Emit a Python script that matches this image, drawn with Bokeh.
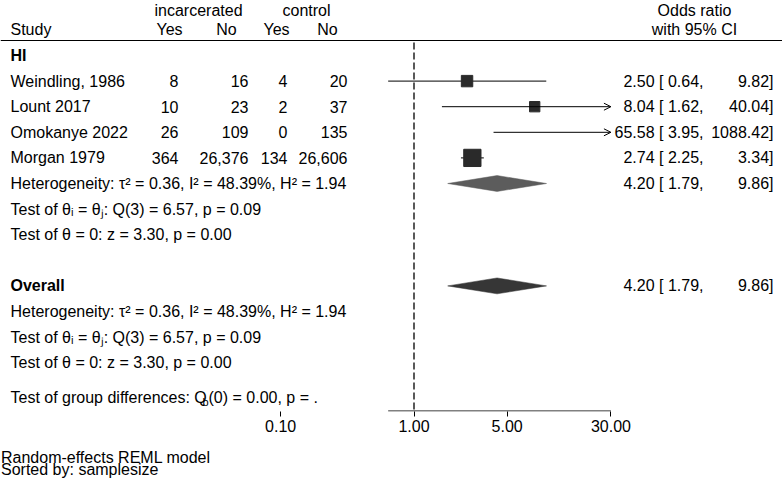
import math
from bokeh.plotting import figure
from bokeh.layouts import column
from bokeh.models import (Range1d, FixedTicker, PrintfTickFormatter, Span,
                          Arrow, OpenHead, ColumnDataSource)
from bokeh.core.properties import value
from bokeh.embed import file_html
from bokeh.resources import INLINE

# ---------------- data ----------------
studies = ["Weindling, 1986", "Lount 2017", "Omokanye 2022", "Morgan 1979"]
inc_yes = [8, 10, 26, 364]
inc_no = [16, 23, 109, 26376]
ctl_yes = [4, 2, 0, 134]
ctl_no = [20, 37, 135, 26606]
or_est = [2.50, 8.04, 65.58, 2.74]
or_lo = [0.64, 1.62, 3.95, 2.25]
or_hi = [9.82, 40.04, 1088.42, 3.34]
group_name = "HI"
group_est, group_lo, group_hi = 4.20, 1.79, 9.86
overall_est, overall_lo, overall_hi = 4.20, 1.79, 9.86
tau2, i2, h2 = 0.36, 48.39, 1.94
q_df, q_val, q_p = 3, 6.57, 0.09
z_val, z_p = 3.30, 0.00
qb_df, qb_val = 0, 0.00
x_ticks = [0.1, 1, 5, 30]
footer = ["Random-effects REML model", "Sorted by: samplesize"]

# ---------------- layout helpers ----------------
W = 782
H_MAIN, H_FOOT = 444, 38
X1PX, PPL = 413.5, 57.9          # pixel of OR = 1, pixels per ln unit
R0PX, PITCH = 55.0, 25.6         # pixel of row 0, row pitch
AXIS_PX = 411


def xd(px):
    return math.exp((px - X1PX) / PPL)


def yd(px):
    return (px - R0PX) / PITCH


FONT = value("Liberation Sans")
FS = "16px"

p = figure(width=W, height=H_MAIN, x_axis_type="log", output_backend="svg",
           toolbar_location=None, y_axis_location=None,
           x_range=Range1d(xd(0), xd(W)), y_range=Range1d(yd(AXIS_PX), yd(0)),
           min_border_left=0, min_border_right=0, min_border_top=0,
           min_border_bottom=H_MAIN - AXIS_PX)
p.outline_line_color = None
p.grid.visible = False
p.background_fill_color = "white"
p.border_fill_color = "white"

ax = p.xaxis[0]
ax.ticker = FixedTicker(ticks=x_ticks, minor_ticks=[])
ax.formatter = PrintfTickFormatter(format="%.2f")
ax.axis_line_color = None
ax.major_tick_out = 5
ax.major_tick_in = 0
ax.minor_tick_out = 0
ax.minor_tick_in = 0
ax.major_tick_line_color = "black"
ax.major_label_standoff = 3
ax.major_label_text_font = "Liberation Sans"
ax.major_label_text_font_size = FS
ax.major_label_text_color = "black"

# axis line only over the data range
p.segment(x0=[min(or_lo)], x1=[max(x_ticks)], y0=[yd(AXIS_PX - 0.5)], y1=[yd(AXIS_PX - 0.5)],
          line_color="black", line_width=1)

# header line
p.add_layout(Span(location=yd(40), dimension="width", line_color="black", line_width=1))

# null line
p.segment(x0=[1], x1=[1], y0=[yd(42)], y1=[yd(AXIS_PX)], line_color="#222222",
          line_width=1.5, line_dash="7 3")


def txt(fig, x, y, s, align="left", bold=False, size=FS):
    fig.text(x=x, y=y, text=s, text_font=FONT, text_font_size=size,
             text_align=align, text_baseline="middle", text_color="black",
             text_font_style="bold" if bold else "normal")


# headers
txt(p, [xd(198)], [yd(10)], ["incarcerated"], "center")
txt(p, [xd(306)], [yd(10)], ["control"], "center")
txt(p, [xd(10)], [yd(29)], ["Study"])
txt(p, [xd(169), xd(226), xd(276), xd(327)], [yd(29)] * 4, ["Yes", "No", "Yes", "No"], "center")
txt(p, [xd(694)], [yd(10)], ["Odds ratio"], "center")
txt(p, [xd(694)], [yd(29)], ["with 95% CI"], "center")

# group rows
rows = [i + 1 for i in range(len(studies))]
txt(p, [xd(10)], [0], [group_name], bold=True)
txt(p, [xd(10)] * len(rows), rows, studies)
for col_px, vals in zip([178, 248, 287, 347], [inc_yes, inc_no, ctl_yes, ctl_no]):
    txt(p, [xd(col_px)] * len(rows), rows, [f"{v:,}" for v in vals], "right")

txt(p, [xd(703)] * len(rows), rows, [f"{e:.2f} [{l:5.2f}," for e, l in zip(or_est, or_lo)], "right")
txt(p, [xd(773)] * len(rows), rows, [f"{h:.2f}]" for h in or_hi], "right")

# weights (random effects) for marker sizes
weights = []
for a, b, c, d in zip(inc_yes, inc_no, ctl_yes, ctl_no):
    cells = [a, b, c, d]
    if 0 in cells:
        cells = [v + 0.5 for v in cells]
    var = sum(1.0 / v for v in cells)
    weights.append(1.0 / (var + tau2))

xmax = max(x_ticks)
# CIs
seg_src = ColumnDataSource(dict(
    x0=[l for l, h in zip(or_lo, or_hi) if h <= xmax],
    x1=[h for l, h in zip(or_lo, or_hi) if h <= xmax],
    y=[r for r, h in zip(rows, or_hi) if h <= xmax]))
p.segment(x0="x0", x1="x1", y0="y", y1="y", source=seg_src, line_color="black", line_width=1)
arr_src = ColumnDataSource(dict(
    x0=[l for l, h in zip(or_lo, or_hi) if h > xmax],
    x1=[xmax for h in or_hi if h > xmax],
    y=[r for r, h in zip(rows, or_hi) if h > xmax]))
p.add_layout(Arrow(x_start="x0", x_end="x1", y_start="y", y_end="y", source=arr_src,
                   line_color="black", line_width=1,
                   end=OpenHead(size=7, line_color="black", line_width=1)))
# squares
sq_src = ColumnDataSource(dict(
    x=[e for e in or_est if e <= xmax],
    y=[r for r, e in zip(rows, or_est) if e <= xmax],
    s=[10.5 * math.sqrt(w) for w, e in zip(weights, or_est) if e <= xmax]))
p.scatter(x="x", y="y", size="s", marker="square", source=sq_src,
          fill_color="#2a2a2a", line_color="#2a2a2a")

# group summary
het = f"Heterogeneity: \u03c4\u00b2 = {tau2:.2f}, I\u00b2 = {i2:.2f}%, H\u00b2 = {h2:.2f}"
t1 = f"Test of \u03b8\u1d62 = \u03b8\u2c7c: Q({q_df}) = {q_val:.2f}, p = {q_p:.2f}"
t2 = f"Test of \u03b8 = 0: z = {z_val:.2f}, p = {z_p:.2f}"
g_row = len(studies) + 1
txt(p, [xd(10)] * 3, [g_row, g_row + 1, g_row + 2], [het, t1, t2])
txt(p, [xd(703)], [g_row], [f"{group_est:.2f} [{group_lo:5.2f},"], "right")
txt(p, [xd(773)], [g_row], [f"{group_hi:.2f}]"], "right")
DH = 0.31
p.patch(x=[group_lo, group_est, group_hi, group_est], y=[g_row, g_row - DH, g_row, g_row + DH],
        fill_color="#5c5c5c", line_color="#5c5c5c", line_width=0.5)

# overall
o_row = g_row + 4
txt(p, [xd(10)], [o_row], ["Overall"], bold=True)
txt(p, [xd(10)] * 3, [o_row + 1, o_row + 2, o_row + 3], [het, t1, t2])
txt(p, [xd(703)], [o_row], [f"{overall_est:.2f} [{overall_lo:5.2f},"], "right")
txt(p, [xd(773)], [o_row], [f"{overall_hi:.2f}]"], "right")
p.patch(x=[overall_lo, overall_est, overall_hi, overall_est], y=[o_row, o_row - DH, o_row, o_row + DH],
        fill_color="#363636", line_color="#363636", line_width=0.5)

# group differences
gd_y = yd(397)
txt(p, [xd(10)], [gd_y], ["Test of group differences: Q"])
txt(p, [xd(10 + 192)], [yd(401)], ["b"], size="11px")
txt(p, [xd(10 + 198)], [gd_y], [f"({qb_df}) = {qb_val:.2f}, p = ."])

# footer (separate strip below the axis)
f = figure(width=W, height=H_FOOT, output_backend="svg", toolbar_location=None,
           x_axis_location=None, y_axis_location=None,
           x_range=Range1d(0, W), y_range=Range1d(H_FOOT, 0),
           min_border=0)
f.outline_line_color = None
f.grid.visible = False
txt(f, [0.5] * len(footer), [457 - H_MAIN + 12 * i for i in range(len(footer))], footer)

layout = column(p, f, spacing=0)
open("out.html", "w").write(file_html(layout, INLINE))
